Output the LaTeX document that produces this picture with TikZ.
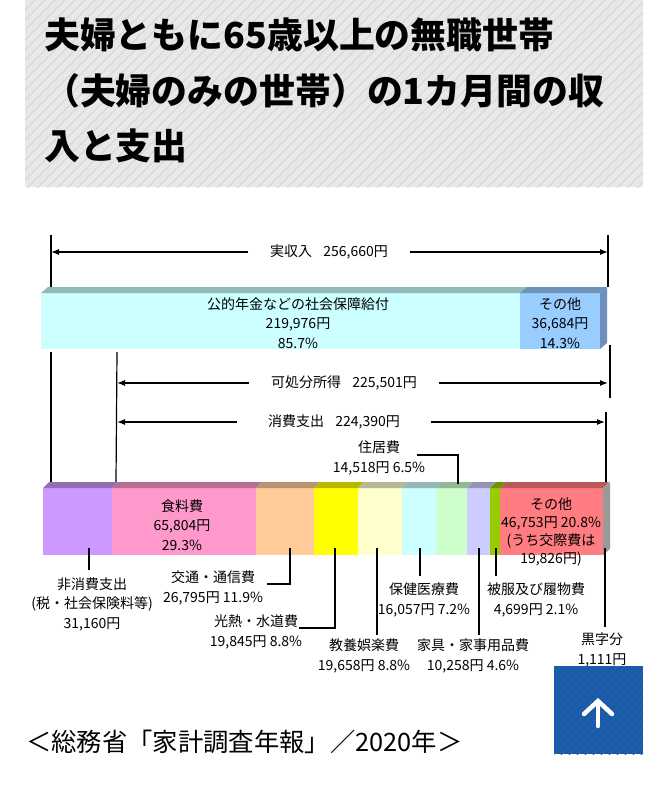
\documentclass[tikz,border=0pt]{standalone}
\usepackage{fontspec}
\setmainfont{Noto Sans CJK JP}
\usepackage{tikz}
\usetikzlibrary{arrows.meta}
\usetikzlibrary{calc}

\definecolor{titlebg}{HTML}{E8E8E8}
\definecolor{hatchln}{HTML}{D4D4D4}
\definecolor{incmain}{HTML}{CCFFFF}
\definecolor{incother}{HTML}{99CCFF}
\definecolor{incside}{HTML}{6F8FBF}
\definecolor{nonc}{HTML}{CC99FF}
\definecolor{food}{HTML}{FF99CC}
\definecolor{trans}{HTML}{FFCC99}
\definecolor{util}{HTML}{FFFF00}
\definecolor{cult}{HTML}{FFFFCC}
\definecolor{health}{HTML}{CCFFFF}
\definecolor{house}{HTML}{CCFFCC}
\definecolor{furn}{HTML}{CCCCFF}
\definecolor{cloth}{HTML}{99CC00}
\definecolor{expoth}{HTML}{FF7C80}
\definecolor{sidegray}{HTML}{999999}
\definecolor{btnblue}{HTML}{1B5AA8}
\definecolor{btnln}{HTML}{2261AE}

\begin{document}
\begin{tikzpicture}[x=0.75pt,y=-0.75pt,>={Latex[length=6pt,width=4.5pt]},
	lbl/.style={font=\fontsize{10.5}{14.6}\selectfont,align=center,inner sep=0pt},
	ttl/.style={font=\fontsize{26.9}{32}\selectfont\bfseries,anchor=west,inner sep=0pt},
	lead/.style={line width=0.9pt}]

\useasboundingbox (0,0) rectangle (667,800);

\fill[titlebg] (25,0) rectangle (643,187);
\begin{scope}
	\clip (25,0) rectangle (643,187);
	\foreach \a in {25,35,...,835}{
		\draw[hatchln,line width=0.6pt] (\a,0) -- ++(-190,190);
	}
\end{scope}
\node[ttl] (t1) at (44,35) {夫婦ともに65歳以上の無職世帯};
\node[ttl] (t2) at (44,91) {（夫婦のみの世帯）の1カ月間の収};
\node[ttl] (t3) at (44,146) {入と支出};

\foreach \xa/\xb/\col in {41/520/incmain,520/600/incother}{
	\fill[\col] (\xa,293) rectangle (\xb,349);
	\fill[\col!72!black] (\xa,293) -- (\xa+7,287) -- (\xb+7,287) -- (\xb,293) -- cycle;
}
\fill[incside] (600,293) -- (607,287) -- (607,343) -- (600,349) -- cycle;
\node[lbl] (pension) at (298,323) {公的年金などの社会保障給付\\219,976円\\85.7\%};
\node[lbl] (incoth) at (560,323) {その他\\36,684円\\14.3\%};

\coordinate (inL) at (51,252);
\coordinate (inR) at (608,252);
\coordinate (dispL) at (117,383);
\coordinate (dispR) at (608,383);
\coordinate (consL) at (117,422);
\coordinate (consR) at (605,422);
\node[lbl,minimum width=121pt] (income) at (329,252) {実収入\hspace{0.8em}256,660円};
\node[lbl,minimum width=142pt] (disp) at (344,383) {可処分所得\hspace{0.8em}225,501円};
\node[lbl,minimum width=145pt] (cons) at (334,422) {消費支出\hspace{0.8em}224,390円};
\draw[->,line width=0.9pt] (income) -- (inL);
\draw[->,line width=0.9pt] (income) -- (inR);
\draw[->,line width=0.9pt] (disp) -- (dispL);
\draw[->,line width=0.9pt] (disp) -- (dispR);
\draw[->,line width=0.9pt] (cons) -- (consL);
\draw[->,line width=0.9pt] (cons) -- (consR);

\draw[lead] (51,235) -- (51,287);
\draw[lead] (608,235) -- (608,287);
\draw[lead] (51,352) -- (51,482);
\draw[lead] (117,352) -- (116,482);
\draw[lead] (610,345) -- (610,398);
\draw[lead] (606,412) -- (606,482);

\foreach \xa/\xb/\col in {43/112/nonc,112/256/food,256/314/trans,314/358/util,358/402/cult,402/436/health,436/467/house,467/490/furn,490/500/cloth,500/603/expoth}{
	\fill[\col] (\xa,488) rectangle (\xb,555);
	\fill[\col!72!black] (\xa,488) -- (\xa+6,482) -- (\xb+6,482) -- (\xb,488) -- cycle;
}
\fill[sidegray] (603,488) -- (610,482) -- (610,549) -- (603,555) -- cycle;
\node[lbl] (foodtxt) at (182,525) {食料費\\65,804円\\29.3\%};
\node[lbl,font=\fontsize{10.5}{13.5}\selectfont] (othtxt) at (551,532) {その他\\46,753円 20.8\%\\(うち交際費は\\19,826円)};

\coordinate (nc1) at (89,548);
\coordinate (nc2) at (89,570);
\coordinate (tr1) at (290,548);
\coordinate (tr2) at (267,584);
\coordinate (ut1) at (335,548);
\coordinate (ut2) at (299,628);
\coordinate (cu1) at (377,548);
\coordinate (cu2) at (377,635);
\coordinate (he1) at (420,548);
\coordinate (he2) at (420,576);
\coordinate (ho1) at (458,484);
\coordinate (ho2) at (417,455);
\coordinate (fu1) at (479,548);
\coordinate (fu2) at (479,635);
\coordinate (cl1) at (496,548);
\coordinate (cl2) at (496,576);
\coordinate (su1) at (605,548);
\coordinate (su2) at (605,627);

\draw[lead] (nc1) -- (nc2);
\draw[lead] (tr1) |- (tr2);
\draw[lead] (ut1) |- (ut2);
\draw[lead] (cu1) -- (cu2);
\draw[lead] (he1) -- (he2);
\draw[lead] (ho1) |- (ho2);
\draw[lead] (fu1) -- (fu2);
\draw[lead] (cl1) -- (cl2);
\draw[lead] (su1) -- (su2);

\node[lbl] (nonctxt) at (92,604) {非消費支出\\(税・社会保険料等)\\31,160円};
\node[lbl] (transtxt) at (213,588) {交通・通信費\\26,795円 11.9\%};
\node[lbl] (utiltxt) at (256,632) {光熱・水道費\\19,845円 8.8\%};
\node[lbl] (culttxt) at (364,656) {教養娯楽費\\19,658円 8.8\%};
\node[lbl] (healthtxt) at (424,600) {保健医療費\\16,057円 7.2\%};
\node[lbl] (housetxt) at (379,458) {住居費\\14,518円 6.5\%};
\node[lbl] (furntxt) at (473,656) {家具・家事用品費\\10,258円 4.6\%};
\node[lbl] (clothtxt) at (536,600) {被服及び履物費\\4,699円 2.1\%};
\node[lbl] (surptxt) at (602,650) {黒字分\\1,111円};

\fill[btnblue] (554,666) rectangle (643,754);
\begin{scope}
	\clip (554,666) rectangle (643,754);
	\foreach \a in {554,562,...,740}{
		\draw[btnln,line width=0.6pt] (\a,666) -- ++(-90,90);
	}
\end{scope}
\draw[white,line width=3.4pt,line cap=round] (598,703) -- (598,726);
\draw[white,line width=3.4pt,line cap=round,line join=miter] (584,714) -- (598,701) -- (612,714);

\node[anchor=west,inner sep=0pt,font=\fontsize{19}{19}\selectfont] (src) at (26,742) {＜総務省「家計調査年報」／2020年＞};

\end{tikzpicture}
\end{document}
